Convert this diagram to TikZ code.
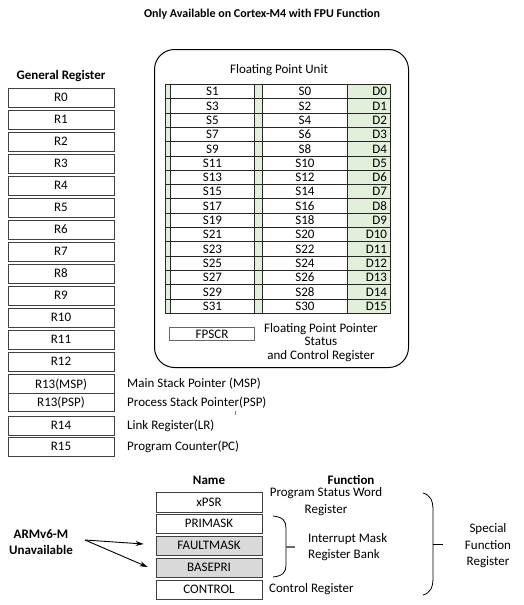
\documentclass[tikz,border=0pt]{standalone}
\usepackage{fontspec}
\setmainfont{Carlito}
\usetikzlibrary{arrows.meta}
\definecolor{fgreen}{HTML}{E2EFDA}
\definecolor{mgray}{HTML}{D9D9D9}
\definecolor{bord}{HTML}{404040}
\newcommand{\fnt}{\fontsize{13}{16.5}\selectfont}
\begin{document}
\begin{tikzpicture}[x=1pt,y=-1pt,
  every node/.style={font=\fnt, inner sep=0pt},
  bold/.style={font=\fnt\bfseries},
  reg/.style={draw=bord, line width=0.8pt, minimum width=106pt, minimum height=19pt, text height=8.4pt, text depth=0pt},
  cell/.style={draw=black!85, line width=1pt, minimum height=14.3pt, anchor=north west, fill=white, text height=8.4pt, text depth=0pt},
  strip/.style={cell, fill=fgreen},
  dcell/.style={cell, fill=fgreen, minimum width=43pt, text width=36pt, inner xsep=3.5pt, align=right},
  lbl/.style={anchor=west},
  brc/.style={draw=black, line width=0.8pt},
  tick/.style={draw=black!60, line width=1.2pt}
]
\useasboundingbox (0,0) rectangle (524,605);
\fill[white] (0,0) rectangle (524,605);

% title
\node[font=\fontsize{12}{14}\selectfont\bfseries] (title) at (262,14) {Only Available on Cortex-M4 with FPU Function};

% general registers
\node[bold] (genreg) at (61,76) {General Register};
\foreach \i in {0,...,12}{
  \node[reg] (r\i) at (61,{97.5+22*\i}) {R\i};
}
\node[reg, minimum height=18.5pt] (r13m) at (61,384) {R13(MSP)};
\node[reg, minimum height=18.5pt] (r13p) at (61,402.5) {R13(PSP)};
\node[reg] (r14) at (61,425.5) {R14};
\node[reg] (r15) at (61,446.5) {R15};

\node[lbl] (lmsp) at (127,384) {Main Stack Pointer (MSP)};
\node[lbl] (lpsp) at (127,403) {Process Stack Pointer(PSP)};
\node[lbl] (llr) at (127,425.5) {Link Register(LR)};
\node[lbl] (lpc) at (127,447) {Program Counter(PC)};
\draw[black!50, line width=0.8pt] (235,410.5) -- (235,414.5);

% FPU
\node[draw=black, line width=1pt, rounded corners=20pt, minimum width=254pt, minimum height=318pt, anchor=north west] (fpu) at (154,49) {};
\node (fputitle) at (279,70) {Floating Point Unit};
\foreach \i in {0,...,15}{
  \pgfmathsetmacro\yy{84+14.3*\i}
  \pgfmathtruncatemacro\a{2*\i+1}
  \pgfmathtruncatemacro\b{2*\i}
  \node[strip, minimum width=5pt] (la\i) at (165,\yy) {};
  \node[cell, minimum width=84pt] (sa\i) at (170,\yy) {S\a};
  \node[strip, minimum width=8pt] (lb\i) at (254,\yy) {};
  \node[cell, minimum width=85pt] (sb\i) at (262,\yy) {S\b};
  \node[dcell] (d\i) at (347,\yy) {D\i};
}
\node[draw=black!60, line width=1pt, minimum width=85pt, minimum height=13pt, anchor=north west, text height=8.4pt, text depth=0pt] (fpscr) at (169,327) {FPSCR};
\node[align=center, font=\fontsize{13}{13.5}\selectfont] (fpscrtxt) at (321,342.5) {Floating Point Pointer\\Status\\and Control Register};

% special registers
\node[bold] (hname) at (209,480) {Name};
\node[bold] (hfunc) at (351,480) {Function};
\node[reg, minimum height=20pt] (xpsr) at (209,502) {xPSR};
\node[reg] (primask) at (209,523.5) {PRIMASK};
\node[reg, fill=mgray] (fault) at (209,545.5) {FAULTMASK};
\node[reg, fill=mgray] (basepri) at (209,567.5) {BASEPRI};
\node[reg] (control) at (209,589.5) {CONTROL};

\node[align=center] (psw) at (326,501.5) {Program Status Word\\Register};
\node[lbl] (ctrl) at (269,589) {Control Register};
\node[align=left, anchor=west] (imrb) at (308,547) {Interrupt Mask\\Register Bank};
\node[align=center] (sfr) at (488,546) {Special\\Function\\Register};

% braces
\draw[brc] (273,516) .. controls (283,517) and (286,521) .. (286,528) -- (286,565) .. controls (286,572) and (283,576) .. (273,577);
\draw[tick] (286,547) -- (295,547);
\draw[brc] (423,493) .. controls (430,495) and (433,500) .. (433,510) -- (433,578) .. controls (433,588) and (430,593) .. (423,595);
\draw[black, line width=0.9pt] (433,544) -- (443,544);

% ARMv6-M
\node[bold, align=center] (armv6) at (41,542) {ARMv6-M\\Unavailable};
\coordinate (armsrc) at (85,540);
\draw[line width=0.9pt, -{Stealth[length=8pt,width=5pt]}] (armsrc) -- ([xshift=-12pt,yshift=1.5pt]fault.west);
\draw[line width=0.9pt, -{Stealth[length=8pt,width=5pt]}] (armsrc) -- ([xshift=-8pt,yshift=0.5pt]basepri.west);
\end{tikzpicture}
\end{document}
